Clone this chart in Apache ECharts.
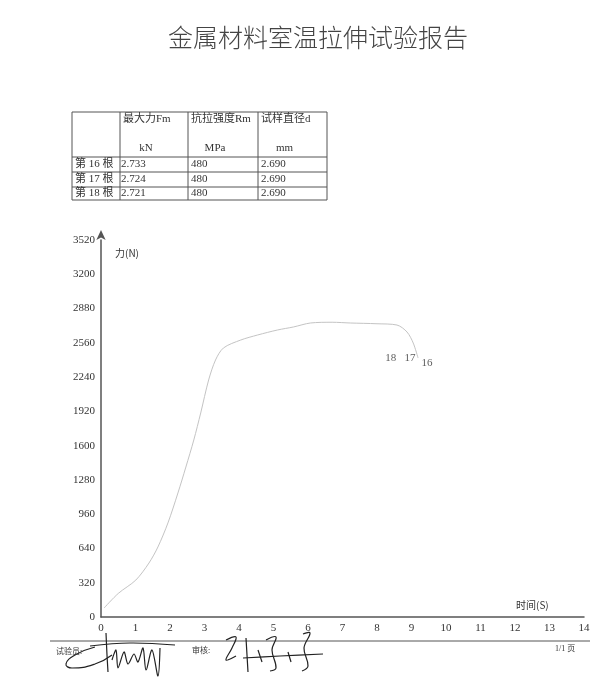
<!DOCTYPE html>
<html>
<head>
<meta charset="utf-8">
<script src="https://cdn.jsdelivr.net/npm/echarts@6/dist/echarts.min.js"></script>
<style>
  html, body { margin: 0; padding: 0; background: #fff; }
  #chart { width: 600px; height: 700px; }
</style>
</head>
<body>
<div id="chart"></div>
<script>
// 曲线数据 (时间 s / 力 N)
const timeS = [0.09, 0.5, 1.01, 1.39, 1.65, 1.94, 2.23, 2.46, 2.69, 2.89, 3.12, 3.32, 3.55, 4.05, 4.54, 5.12, 5.58, 6.07, 6.7, 7.23, 8.0, 8.58, 8.87, 9.05, 9.19]
const forceN = [84, 220, 345, 504, 654, 878, 1158, 1400, 1653, 1905, 2213, 2400, 2512, 2586, 2633, 2680, 2708, 2745, 2752, 2745, 2738, 2726, 2661, 2558, 2418]

// 曲线末端编号
const specimenNames = ['18', '17', '16']
const breakTime = [8.4, 8.96, 9.45]
const breakForce = [2418, 2418, 2372]

// 表格
const rowLabels = ['第 16 根', '第 17 根', '第 18 根']
const maxForce = ['2.733', '2.724', '2.721']
const strength = ['480', '480', '480']
const diameter = ['2.690', '2.690', '2.690']
const headers = ['最大力Fm', '抗拉强度Rm', '试样直径d']
const units = ['kN', 'MPa', 'mm']

const serif = 'Liberation Serif, Noto Sans CJK SC'
const cjk = 'Noto Sans CJK SC'

const myChart = echarts.init(document.getElementById('chart'))

// 表格线
const colX = [72, 120, 188, 258, 327]
const rowY = [112, 157, 172, 187, 200]
const tableGraphics = []
colX.forEach(x => {
  tableGraphics.push({ type: 'line', shape: { x1: x, y1: rowY[0], x2: x, y2: rowY[4] }, style: { stroke: '#555', lineWidth: 1 } })
})
rowY.forEach(y => {
  tableGraphics.push({ type: 'line', shape: { x1: colX[0], y1: y, x2: colX[4], y2: y }, style: { stroke: '#555', lineWidth: 1 } })
})
const cellText = (text, x, y, align) => ({
  type: 'text', x: x, y: y,
  style: { text: text, fill: '#333', font: '11px ' + serif, align: align || 'left', verticalAlign: 'middle' }
})
headers.forEach((h, i) => tableGraphics.push(cellText(h, colX[i + 1] + 3, 119)))
units.forEach((u, i) => tableGraphics.push(cellText(u, (colX[i + 1] + colX[i + 2]) / 2 - 8, 148, 'center')))
rowLabels.forEach((r, i) => {
  const y = (rowY[i + 1] + rowY[i + 2]) / 2
  tableGraphics.push(cellText(r, 75, y))
  tableGraphics.push(cellText(maxForce[i], 121, y))
  tableGraphics.push(cellText(strength[i], 191, y))
  tableGraphics.push(cellText(diameter[i], 261, y))
})

// 签名 (手写笔迹近似)
const inkStyle = { stroke: '#222', lineWidth: 1.2, fill: null }
const signatures = [
  { type: 'polyline', shape: { points: [[95, 647], [75, 655], [66, 664], [72, 668], [95, 664], [112, 655]], smooth: 0.5 }, style: inkStyle },
  { type: 'polyline', shape: { points: [[90, 646], [130, 643], [175, 645]], smooth: 0.4 }, style: inkStyle },
  { type: 'polyline', shape: { points: [[106, 633], [107, 655], [108, 672]], smooth: 0.3 }, style: inkStyle },
  { type: 'polyline', shape: { points: [[112, 660], [116, 650], [118, 668], [124, 652], [128, 664], [134, 654], [138, 662], [143, 648], [146, 670], [152, 650], [158, 676], [160, 648]], smooth: 0.3 }, style: inkStyle },
  { type: 'polyline', shape: { points: [[226, 640], [236, 637], [232, 648], [226, 660], [236, 656]], smooth: 0.4 }, style: inkStyle },
  { type: 'polyline', shape: { points: [[246, 638], [247, 655], [248, 672]], smooth: 0.2 }, style: inkStyle },
  { type: 'polyline', shape: { points: [[243, 658], [280, 656], [323, 654]], smooth: 0.3 }, style: inkStyle },
  { type: 'polyline', shape: { points: [[266, 640], [276, 637], [272, 650], [276, 668], [270, 671]], smooth: 0.4 }, style: inkStyle },
  { type: 'polyline', shape: { points: [[303, 634], [310, 633], [304, 648], [308, 666], [302, 671]], smooth: 0.4 }, style: inkStyle },
  { type: 'polyline', shape: { points: [[258, 650], [262, 662]], smooth: 0 }, style: inkStyle },
  { type: 'polyline', shape: { points: [[288, 652], [291, 662]], smooth: 0 }, style: inkStyle }
]

const option = {
  backgroundColor: '#fff',
  animation: false,
  title: {
    text: '金属材料室温拉伸试验报告',
    left: 163,
    top: 20,
    textStyle: { fontFamily: cjk, fontSize: 25, fontWeight: 300, color: '#444' }
  },
  grid: { left: 101, right: 16, top: 240, bottom: 83 },
  xAxis: {
    type: 'value',
    min: 0,
    max: 14,
    interval: 1,
    axisLine: { lineStyle: { color: '#555', width: 1.5 } },
    axisTick: { show: false },
    splitLine: { show: false },
    axisLabel: { color: '#333', fontFamily: serif, fontSize: 11, margin: 6 }
  },
  yAxis: {
    type: 'value',
    min: 0,
    max: 3520,
    interval: 320,
    axisLine: {
      show: true,
      symbol: ['none', 'arrow'],
      symbolSize: [7, 10],
      symbolOffset: [0, 10],
      lineStyle: { color: '#555', width: 1.5 }
    },
    axisTick: { show: false },
    splitLine: { show: false },
    axisLabel: { color: '#333', fontFamily: serif, fontSize: 11, margin: 6, formatter: v => String(v) }
  },
  series: [
    {
      name: '力-时间',
      type: 'line',
      data: timeS.map((t, i) => [t, forceN[i]]),
      smooth: 0.3,
      showSymbol: false,
      lineStyle: { color: '#c4c4c4', width: 1 }
    },
    {
      name: '编号',
      type: 'scatter',
      symbolSize: 0,
      data: breakTime.map((t, i) => ({ value: [t, breakForce[i]], name: specimenNames[i] })),
      label: {
        show: true,
        position: 'inside',
        formatter: p => p.name,
        color: '#333',
        fontFamily: serif,
        fontSize: 11
      }
    }
  ],
  graphic: [
    { type: 'text', x: 115, y: 253, style: { text: '力(N)', fill: '#333', font: '10px ' + cjk, verticalAlign: 'middle' } },
    { type: 'text', x: 516, y: 605, style: { text: '时间(S)', fill: '#333', font: '10px ' + cjk, verticalAlign: 'middle' } },
    { type: 'line', shape: { x1: 50, y1: 641, x2: 590, y2: 641 }, style: { stroke: '#555', lineWidth: 1 } },
    { type: 'text', x: 56, y: 651, style: { text: '试验员:', fill: '#333', font: '8px ' + cjk, verticalAlign: 'middle' } },
    { type: 'text', x: 192, y: 650, style: { text: '审核:', fill: '#333', font: '8px ' + cjk, verticalAlign: 'middle' } },
    { type: 'text', x: 555, y: 649, style: { text: '1/1 页', fill: '#333', font: '8px ' + serif, verticalAlign: 'middle' } }
  ].concat(tableGraphics, signatures)
}

myChart.setOption(option)
window.addEventListener('resize', () => myChart.resize())
</script>
</body>
</html>
